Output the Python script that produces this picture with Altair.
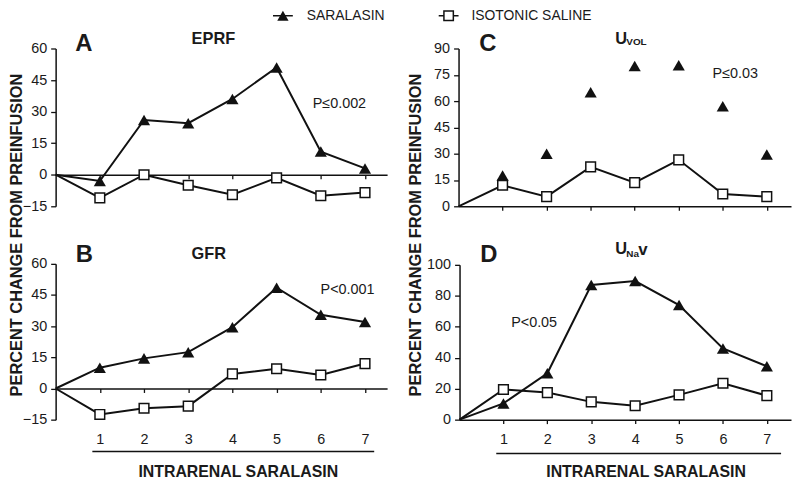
import altair as alt
import pandas as pd

# ---------------- data ----------------
STEPS = [1, 2, 3, 4, 5, 6, 7]

A_SAR = [-3, 26, 24.5, 36, 51, 11, 3]          # EPRF, saralasin
A_SAL = [-11, 0, -5, -9.5, -1.5, -10, -8.5]    # EPRF, isotonic saline
B_SAR = [10, 14.5, 17.5, 29.5, 48.5, 35.5, 32]  # GFR, saralasin
B_SAL = [-12.5, -9.5, -8.5, 7, 9.5, 6.5, 12]    # GFR, isotonic saline
C_SAR = [17.5, 30, 65, 80, 80.5, 57, 29.5]      # U_VOL, saralasin
C_SAL = [12, 5.5, 22.5, 13.5, 26.5, 7, 5.5]     # U_VOL, isotonic saline
D_SAR = [10.5, 30, 87, 89.5, 74, 46, 34.5]      # U_Na v, saralasin
D_SAL = [19.5, 17.5, 11.5, 9, 16, 23.5, 15.5]   # U_Na v, isotonic saline

TICKS_AB = [-15, 0, 15, 30, 45, 60]
TICKS_C = [0, 15, 30, 45, 60, 75, 90]
TICKS_D = [0, 20, 40, 60, 80, 100]

SERIES = ["SARALASIN", "ISOTONIC SALINE"]

FONT = "Liberation Sans"
INK = "#111111"
TXT = "#1a1a1a"

W, H = 790, 472


def panel(sar, sal, xdom, xr, ydom, yr, yticks, x_off, y_off, show_labels,
          label_pad, sar_line=True):
    xs = alt.Scale(domain=xdom, range=xr, nice=False, zero=False)
    ys = alt.Scale(domain=ydom, range=yr, nice=False, zero=False)
    xaxis = alt.Axis(orient="bottom", offset=x_off, values=STEPS,
                     labels=show_labels, title=None, grid=False, tickSize=4,
                     tickWidth=1.3, domainWidth=1.5, domainColor=INK,
                     tickColor=INK, labelFont=FONT, labelFontSize=14.5,
                     labelColor=TXT, labelPadding=label_pad, labelFlush=False)
    yaxis = alt.Axis(orient="left", offset=y_off, values=yticks, title=None,
                     grid=False, tickSize=5, tickWidth=1.3, domainWidth=1.5,
                     domainColor=INK, tickColor=INK, labelFont=FONT,
                     labelFontSize=14.5, labelColor=TXT, labelPadding=4)
    sal_line_df = pd.DataFrame({"x": [0] + STEPS, "y": [0] + sal})
    sal_pt_df = pd.DataFrame({"x": STEPS, "y": sal})
    sar_line_df = pd.DataFrame({"x": [0] + STEPS, "y": [0] + sar})
    sar_pt_df = pd.DataFrame({"x": STEPS, "y": sar})

    layers = [
        alt.Chart(sal_line_df).mark_line(color=INK, strokeWidth=2).encode(
            x=alt.X("x:Q", scale=xs, axis=xaxis),
            y=alt.Y("y:Q", scale=ys, axis=yaxis),
        )
    ]
    if sar_line:
        layers.append(
            alt.Chart(sar_line_df).mark_line(color=INK, strokeWidth=2).encode(
                x=alt.X("x:Q", scale=xs, axis=None),
                y=alt.Y("y:Q", scale=ys, axis=None),
            )
        )
    layers.append(
        alt.Chart(sar_pt_df).mark_point(shape="triangle-up", filled=True,
                                        color=INK, size=150, opacity=1).encode(
            x=alt.X("x:Q", scale=xs, axis=None),
            y=alt.Y("y:Q", scale=ys, axis=None),
        )
    )
    layers.append(
        alt.Chart(sal_pt_df).mark_point(shape="square", filled=True,
                                        fill="white", stroke=INK,
                                        strokeWidth=1.5, size=95,
                                        opacity=1).encode(
            x=alt.X("x:Q", scale=xs, axis=None),
            y=alt.Y("y:Q", scale=ys, axis=None),
        )
    )
    return layers


def txt(s, x, y, size=14, bold=False, align="left", baseline="alphabetic",
        angle=0):
    kw = dict(text=s, font=FONT, fontSize=size, color=TXT, align=align,
              baseline=baseline, fontWeight="bold" if bold else "normal")
    if angle:
        kw["angle"] = angle
    return alt.Chart(alt.Data(values=[{}])).mark_text(**kw).encode(
        x=alt.value(x), y=alt.value(y))


def hrule(x1, x2, y, width=1.5):
    return alt.Chart(alt.Data(values=[{}])).mark_rule(
        color=INK, strokeWidth=width).encode(
        x=alt.value(x1), x2=alt.value(x2), y=alt.value(y))


def sym(shape, x, y, size, fill):
    return alt.Chart(alt.Data(values=[{}])).mark_point(
        shape=shape, filled=True, fill=fill, stroke=INK,
        strokeWidth=1.5 if fill == "white" else 0, size=size,
        opacity=1).encode(x=alt.value(x), y=alt.value(y))


# axes positions (chart coordinates)
pA = panel(A_SAR, A_SAL, [0, 7.5], [48, 382], [-15, 60], [198, 39], TICKS_AB,
           -(H - 166.2), -48, False, 4)
pB = panel(B_SAR, B_SAL, [0, 7.5], [48, 382], [-15, 60], [413, 256], TICKS_AB,
           -(H - 381.6), -48, True, 40)
pC = panel(C_SAR, C_SAL, [0, 7.55], [454, 789], [0, 90], [198, 39], TICKS_C,
           -(H - 198), -454, False, 4, sar_line=False)
pD = panel(D_SAR, D_SAL, [0, 7.55], [455, 789], [0, 100], [413, 257], TICKS_D,
           -(H - 413), -455, True, 9)

deco = [
    # legend
    hrule(267, 287, 6), sym("triangle-up", 277, 6, 130, INK),
    txt(SERIES[0], 301, 6, 14, baseline="middle"),
    hrule(434, 454, 6), sym("square", 444, 6, 90, "white"),
    txt(SERIES[1], 467, 6, 14, baseline="middle"),
    # panel letters and titles
    txt("A", 76.5, 42, 24, True, "center"),
    txt("B", 77, 254, 24, True, "center"),
    txt("C", 483.5, 42, 24, True, "center"),
    txt("D", 484.5, 254, 24, True, "center"),
    txt("EPRF", 185, 34, 16.5, True),
    txt("GFR", 185, 251, 16.5, True),
    txt("U", 612, 34, 16.5, True), txt("VOL", 623, 35.5, 10, True),
    txt("U", 612, 246.5, 16.5, True), txt("Na", 623, 249, 10, True),
    txt("v", 635, 247, 17, True),
    # p-values
    txt("P\u22640.002", 307, 95, 14.5, baseline="middle"),
    txt("P<0.001", 315, 282, 14.5, baseline="middle"),
    txt("P\u22640.03", 710, 65, 14.5, baseline="middle"),
    txt("P<0.05", 507, 316, 14.5, baseline="middle"),
    # y titles
    txt("PERCENT CHANGE FROM PREINFUSION", 9, 227, 16.5, True, "center",
        "middle", 270),
    txt("PERCENT CHANGE FROM PREINFUSION", 411, 227, 16.5, True, "center",
        "middle", 270),
    # x titles
    hrule(85, 369, 445), hrule(492, 779, 447),
    txt("INTRARENAL SARALASIN", 232, 465.5, 16, True, "center", "middle"),
    txt("INTRARENAL SARALASIN", 643, 466, 16, True, "center", "middle"),
]

chart = alt.layer(*pA, *pB, *pC, *pD, *deco).resolve_scale(
    x="independent", y="independent"
).resolve_axis(x="independent", y="independent").properties(
    width=W, height=H, autosize=alt.AutoSizeParams(type="none"), padding=0
).configure_view(stroke=None)

chart.save("out.html", embed_options={"renderer": "svg", "actions": False})
